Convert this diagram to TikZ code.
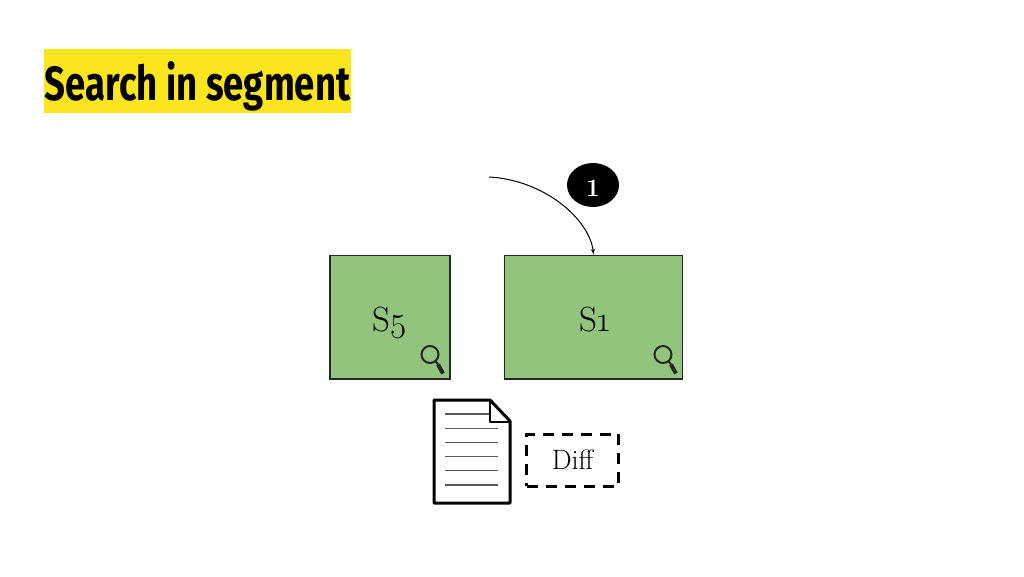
\documentclass[tikz,border=0pt]{standalone}
\usepackage{fontspec}
\newfontfamily\titlefont{Fira Sans}
\newfontfamily\labelfont[Numbers=OldStyle]{Latin Modern Roman}
\usetikzlibrary{arrows, shapes.geometric}
\definecolor{segfill}{HTML}{93C47D}
\definecolor{titlefill}{HTML}{FBE61E}

\begin{document}
\begin{tikzpicture}[x=1pt, y=-1pt, >=latex']
  \tikzstyle{segment} = [draw=black!85, rectangle, fill=segfill, line width=1.3pt, minimum height=123.5pt, text height=28.5pt, text depth=0pt, font=\labelfont\fontsize{35}{40}\selectfont]
  \tikzset{lens/.pic={
    \draw [line width=2pt, draw=black!85] (0,0) circle (8.5);
    \draw [line width=2pt, draw=black!85] (5.5,6.5) -- (8,10);
    \draw [line width=4pt, draw=black!85] (8,10) -- (13,19);
  }}
  \useasboundingbox (0,0) rectangle (1024,576);

  \node [fill=titlefill, minimum width=307pt, inner sep=0pt, text height=51pt, text depth=13pt] (title) at (197.5,81)
    {\scalebox{0.76}[1]{\titlefont\bfseries\fontsize{48}{56}\selectfont Search in segment}};

  \node [segment, minimum width=120pt] (S5) at (390,317.25) {S5};
  \node [segment, minimum width=177.5pt] (S1) at (593.5,317.25) {\hspace{2pt}S1};
  \pic at (430,354.5) {lens};
  \pic at (663,354.5) {lens};

  \coordinate (start) at (489,177);
  \draw [->, line width=1pt] (start) .. controls (545,180) and (590,220) .. (S1.north);
  \node [ellipse, fill=black, text=white, minimum width=52pt, minimum height=44pt, inner sep=0pt, text height=23pt, text depth=0pt, font=\bfseries\fontsize{25}{28}\selectfont] (step1) at (593,185) {1\hspace{2pt}};

  % document
  \draw [line width=3pt, line join=round, fill=white] (434,400) -- (490,400) -- (510,421) -- (510,503) -- (434,503) -- cycle;
  \draw [line width=2pt, line join=round] (490,400) -- (490,421.5) -- (510,421.5);
  \draw [line width=1.8pt, draw=black!65] (445,414) -- (489,414);
  \foreach \y in {428.5,442.5,456.5,470.5,485}
    \draw [line width=1.8pt, draw=black!65] (445,\y) -- (498,\y);

  \node [draw, line width=3pt, dash pattern=on 11pt off 8pt, minimum width=92pt, minimum height=52pt, text height=18pt, text depth=0pt, font=\labelfont\fontsize{28}{32}\selectfont] (diff) at (572.5,460) {Diff};
\end{tikzpicture}
\end{document}
